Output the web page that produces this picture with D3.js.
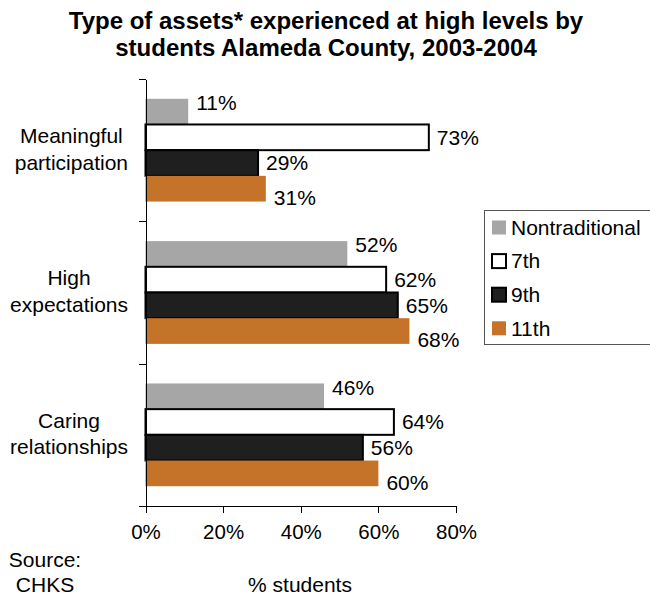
<!DOCTYPE html>
<html>
<head>
<meta charset="utf-8">
<script src="https://cdn.jsdelivr.net/npm/d3@7"></script>
<style>
    body { margin: 0; background: #fff; }
    svg { display: block; font-family: "Liberation Sans", Arial, sans-serif; }
    .axis path, .axis line { stroke: #000; shape-rendering: crispEdges; }
    .axis text { font-size: 20.5px; fill: #000; }
</style>
</head>
<body>
<div id="chart"></div>
<script>
"use strict";

var categories = [["Meaningful", "participation"], ["High", "expectations"], ["Caring", "relationships"]];
var seriesNames = ["Nontraditional", "7th", "9th", "11th"];
var nontraditional = [11, 52, 46];
var grade7 = [73, 62, 64];
var grade9 = [29, 65, 56];
var grade11 = [31, 68, 60];
var xTicks = [0, 20, 40, 60, 80];
var titleLines = ["Type of assets* experienced at high levels by", "students Alameda County, 2003-2004"];

var seriesValues = [nontraditional, grade7, grade9, grade11];
var fills = ["#a6a6a6", "#ffffff", "#1f1f1f", "#c47328"];
var strokes = [null, "#000", "#000", null];
// Excel nudged the first and last labels off the bar centre
var labelShift = [-9, 0, 0, 9];

var width = 650, height = 599;
var fs = '21px';
var plot = {left: 145.5, right: 456, top: 79, bottom: 506};

var svg = d3.select('#chart').append('svg')
    .attr('width', width)
    .attr('height', height);

svg.append('g')
    .selectAll('text')
    .data(titleLines)
    .enter().append('text')
        .attr('x', 326)
        .attr('y', function (d, i) { return 29 + i * 26.5; })
        .attr('text-anchor', 'middle')
        .attr('font-weight', 'bold')
        .attr('font-size', '24px')
        .text(function (d) { return d; });

var x = d3.scaleLinear()
    .domain([0, 80])
    .range([plot.left, plot.right]);

var y = d3.scaleBand()
    .domain(d3.range(categories.length))
    .range([plot.top, plot.bottom])
    .padding(0);

var ySub = d3.scaleBand()
    .domain(seriesNames)
    .range([0, y.bandwidth()])
    .paddingInner(0)
    .paddingOuter(0.77);

var yEdges = d3.scaleLinear()
    .domain([0, categories.length])
    .range([plot.top, plot.bottom]);

var groups = svg.selectAll('.cat')
    .data(categories)
    .enter().append('g')
        .attr('class', 'cat')
        .attr('transform', function (d, i) { return 'translate(0,' + y(i) + ')'; });

groups.each(function (cat, ci) {
    var g = d3.select(this);
    seriesNames.forEach(function (name, si) {
        var v = seriesValues[si][ci];
        g.append('rect')
            .attr('x', x(0))
            .attr('y', ySub(name))
            .attr('width', x(v) - x(0))
            .attr('height', ySub.bandwidth())
            .attr('fill', fills[si])
            .attr('stroke', strokes[si] || 'none')
            .attr('stroke-width', strokes[si] ? 2 : 0);
        g.append('text')
            .attr('x', x(v) + 8)
            .attr('y', ySub(name) + ySub.bandwidth() / 2 + labelShift[si])
            .attr('dy', '0.35em')
            .attr('font-size', fs)
            .text(v + '%');
    });

    var lab = g.append('g');
    var lines = lab.selectAll('text')
        .data(cat)
        .enter().append('text')
            .attr('y', function (d, i) { return y.bandwidth() / 2 - 7 + i * 26.5; })
            .attr('text-anchor', 'middle')
            .attr('font-size', fs)
            .text(function (d) { return d; });
    var maxW = 0;
    lines.each(function () { maxW = Math.max(maxW, this.getComputedTextLength()); });
    lines.attr('x', 128 - maxW / 2);
});

svg.append('g')
    .attr('class', 'axis axis--y')
    .attr('transform', 'translate(' + plot.left + ',0)')
    .call(d3.axisLeft(yEdges)
        .tickValues(d3.range(categories.length + 1))
        .tickSize(7)
        .tickSizeOuter(0)
        .tickFormat(''));

svg.append('g')
    .attr('class', 'axis axis--x')
    .attr('transform', 'translate(0,' + plot.bottom + ')')
    .call(d3.axisBottom(x)
        .tickValues(xTicks)
        .tickSize(7)
        .tickSizeOuter(0)
        .tickPadding(11)
        .tickFormat(function (d) { return d + '%'; }));

svg.selectAll('.axis path').attr('stroke-width', 1);

svg.append('text')
    .attr('x', 300)
    .attr('y', 592)
    .attr('text-anchor', 'middle')
    .attr('font-size', fs)
    .text('% students');

svg.append('g')
    .selectAll('text')
    .data(['Source:', 'CHKS'])
    .enter().append('text')
        .attr('x', 45)
        .attr('y', function (d, i) { return 567 + i * 25; })
        .attr('text-anchor', 'middle')
        .attr('font-size', fs)
        .text(function (d) { return d; });

// legend
var legend = svg.append('g').attr('class', 'legend');

legend.append('rect')
    .attr('x', 484.5)
    .attr('y', 210.5)
    .attr('width', 180)
    .attr('height', 134)
    .attr('fill', '#fff')
    .attr('stroke', '#555')
    .attr('stroke-width', 1);

var items = legend.selectAll('.item')
    .data(seriesNames)
    .enter().append('g')
        .attr('class', 'item')
        .attr('transform', function (d, i) { return 'translate(0,' + (227.5 + i * 33.6) + ')'; });

items.append('rect')
    .attr('x', 492)
    .attr('y', -7)
    .attr('width', 14)
    .attr('height', 14)
    .attr('fill', function (d, i) { return fills[i]; })
    .attr('stroke', function (d, i) { return strokes[i] || 'none'; })
    .attr('stroke-width', 2);

items.append('text')
    .attr('x', 511)
    .attr('dy', '0.35em')
    .attr('font-size', fs)
    .text(function (d) { return d; });
</script>
</body>
</html>
